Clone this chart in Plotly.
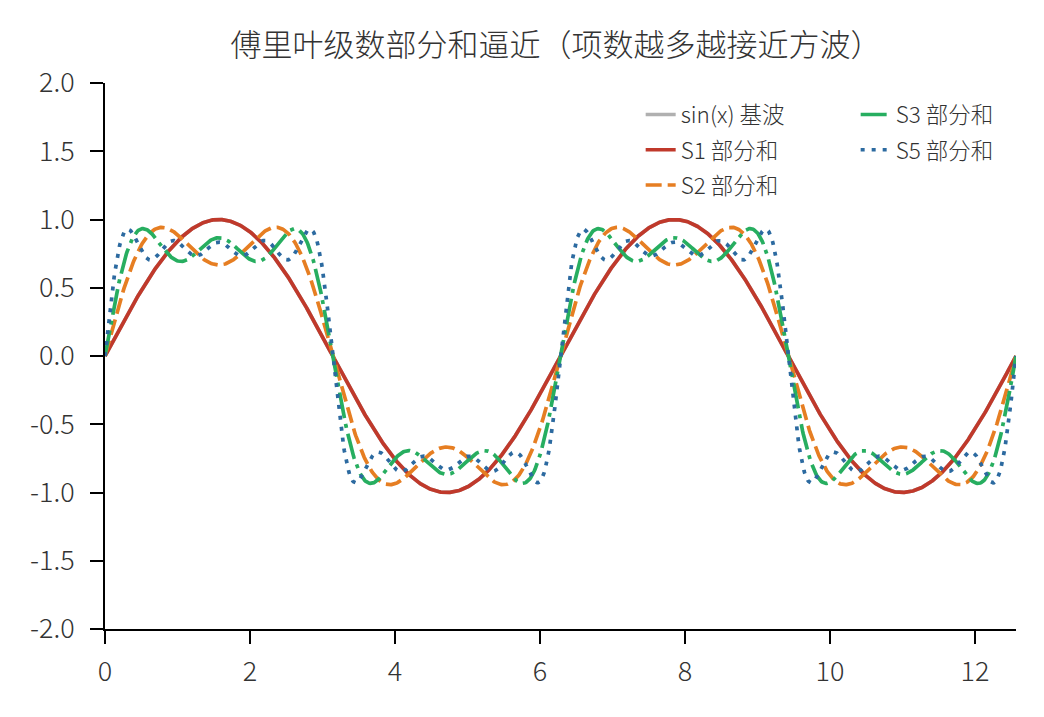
import numpy as np
import plotly.graph_objects as go

# odd harmonics of the square wave and how many of them each partial sum uses
harmonics = [1, 3, 5, 7, 9]
names = ["sin(x) 基波", "S1 部分和", "S2 部分和", "S3 部分和", "S5 部分和"]
n_terms = [1, 1, 2, 3, 5]
colors = ["#b0b0b0", "#c0392b", "#e67e22", "#27ae60", "#2c6aa0"]
dashes = ["solid", "solid", "16px,6px", "26px,6px,4px,6px", "4px,7px"]
legend_ids = ["legend", "legend", "legend", "legend2", "legend2"]

y_ticks = [-2.0, -1.5, -1.0, -0.5, 0.0, 0.5, 1.0, 1.5, 2.0]
y_labels = ["-2.0", "-1.5", "-1.0", "-0.5", "0.0", "0.5", "1.0", "1.5", "2.0"]
x_ticks = [0, 2, 4, 6, 8, 10, 12]

x = np.linspace(0, 4 * np.pi, 1200)

fig = go.Figure()

for i, (name, n, col, dash, lg) in enumerate(zip(names, n_terms, colors, dashes, legend_ids)):
    # partial sum of sin(kx)/k over the first n odd harmonics
    y = sum(np.sin(k * x) / k for k in harmonics[:n])
    fig.add_trace(go.Scatter(
        x=x, y=y, mode="lines", name=name,
        line=dict(color=col, width=3.7, dash=dash),
        legend=lg, legendgroup=str(i)
    ))

font_main = dict(family="Noto Sans CJK SC Light, Noto Sans CJK SC, sans-serif",
                 color="#333333", weight=300)

fig.update_layout(
    width=1044, height=717,
    paper_bgcolor="white", plot_bgcolor="white",
    margin=dict(l=97, r=36, t=75, b=96),
    font=dict(font_main, size=22),
    title=dict(
        text="傅里叶级数部分和逼近（项数越多越接近方波）",
        x=0.525, xanchor="center", y=0.948, yanchor="middle",
        font=dict(font_main, size=31)
    ),
    legend=dict(
        x=0.588, xanchor="left", y=0.981, yanchor="top",
        bgcolor="rgba(0,0,0,0)", font=dict(font_main, size=22.5),
        tracegroupgap=3
    ),
    legend2=dict(
        x=0.824, xanchor="left", y=0.981, yanchor="top",
        bgcolor="rgba(0,0,0,0)", font=dict(font_main, size=22.5),
        tracegroupgap=3
    ),
)

fig.update_xaxes(
    range=[0, 4 * np.pi], tickvals=x_ticks,
    showline=True, linecolor="black", linewidth=2,
    ticks="outside", ticklen=13, tickwidth=2, tickcolor="black",
    showgrid=False, zeroline=False, ticklabelstandoff=5,
    tickfont=dict(font_main, size=27)
)
fig.update_yaxes(
    range=[-2, 2], tickvals=y_ticks, ticktext=y_labels,
    showline=True, linecolor="black", linewidth=2,
    ticks="outside", ticklen=13, tickwidth=2, tickcolor="black",
    showgrid=False, zeroline=False, ticklabelstandoff=10,
    tickfont=dict(font_main, size=27)
)

fig.write_html("out.html")
